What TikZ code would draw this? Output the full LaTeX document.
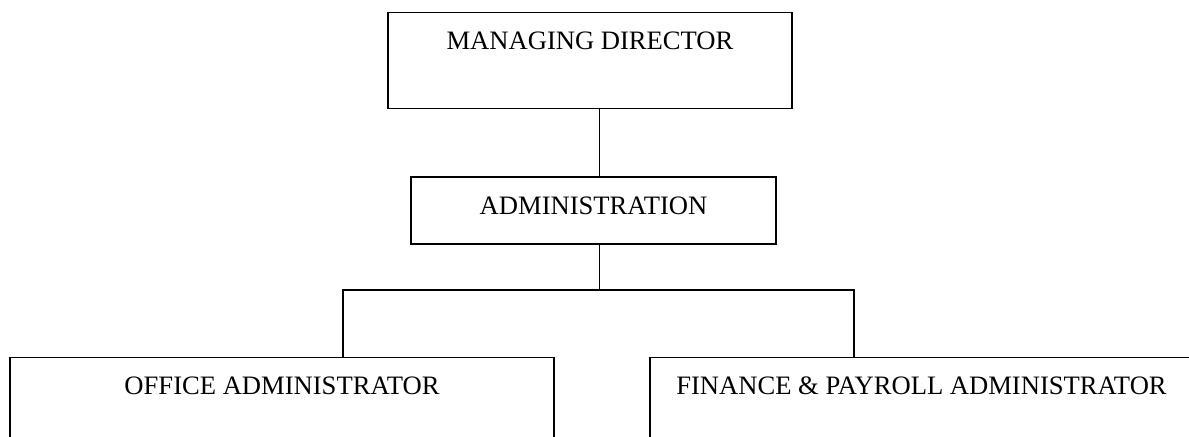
\documentclass[tikz,border=0pt]{standalone}
\usepackage{fontspec}
\setmainfont{Liberation Serif}
\usetikzlibrary{positioning, calc}

\begin{document}
\begin{tikzpicture}[
    x=0.5pt, y=-0.5pt,
    post/.style={draw, line width=0.75pt, inner sep=0pt, anchor=north,
        font=\fontsize{13.3}{16}\selectfont, text height=18.5pt},
    link/.style={line width=0.75pt}
]
\useasboundingbox (0,0) rectangle (1189,437);

% Head of the chart and the department under it
\node[post, minimum width=202pt, text depth=29.5pt] (md) at (590,12) {MANAGING DIRECTOR};
\node[post, minimum width=182.5pt, text depth=15pt, below=33.5pt of md, xshift=1.75pt] (admin) {ADMINISTRATION};

% Staff row, boxes run past the page edge
\node[post, minimum width=272pt, text depth=29.5pt] (office) at (282,357) {OFFICE ADMINISTRATOR};
\node[post, minimum width=271.5pt, text depth=29.5pt] (finance) at (921.5,357) {FINANCE \& PAYROLL ADMINISTRATOR};

% Connectors: stem down, then the branch bar
\coordinate (split) at (599.5,290);
\coordinate (left) at (343,290);
\coordinate (right) at (854,290);
\draw[link] (md.south -| split) -- (admin.north -| split);
\draw[link] (admin.south -| split) -- (split);
\draw[link] (office.north -| left) -- (left) -- (right) -- (finance.north -| right);

\end{tikzpicture}
\end{document}
